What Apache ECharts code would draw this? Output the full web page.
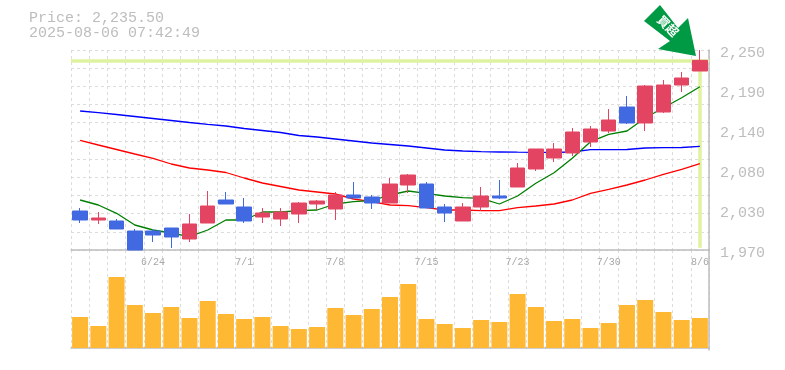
<!DOCTYPE html>
<html>
<head>
<meta charset="utf-8">
<title>Price chart</title>
<style>
	html, body { margin: 0; padding: 0; background: #fff; }
	#chart { width: 785px; height: 370px; }
</style>
<script src="https://cdn.jsdelivr.net/npm/echarts@6/dist/echarts.min.js"></script>
</head>
<body>
<div id="chart"></div>
<script>
	const dates = ['6/18', '6/19', '6/20', '6/23', '6/24', '6/25', '6/26', '6/27', '6/30', '7/1', '7/2', '7/3', '7/4', '7/7', '7/8', '7/9', '7/10', '7/11', '7/14', '7/15', '7/16', '7/17', '7/18', '7/22', '7/23', '7/24', '7/25', '7/28', '7/29', '7/30', '7/31', '8/1', '8/4', '8/5', '8/6']
	const opens = [2024.6, 2012, 2010.6, 1996.6, 1996.6, 2000.8, 1985.4, 2007.8, 2040, 2030.2, 2016.2, 2013.4, 2020.4, 2034.4, 2027.4, 2047, 2044.2, 2035.8, 2061, 2062.4, 2030.2, 2010.6, 2030.2, 2045.6, 2058.2, 2083.4, 2098.8, 2105.8, 2121.2, 2136.6, 2170.2, 2147.8, 2163.2, 2201, 2220.6]
	const closes = [2012, 2014.8, 1999.4, 1970, 1991, 1988.2, 2006.4, 2031.6, 2034.4, 2010.6, 2021.8, 2023.2, 2035.8, 2038.6, 2047, 2042.8, 2035.8, 2062.4, 2075, 2028.8, 2021.8, 2030.2, 2045.6, 2042.8, 2084.8, 2111.4, 2111.4, 2135.2, 2139.4, 2152, 2147.8, 2199.6, 2201, 2210.8, 2235.5]
	const lows = [2007.8, 2006.4, 1999.4, 1970, 1981.2, 1972.8, 1981.2, 2007.8, 2034.4, 2007.8, 2007.8, 2003.6, 2007.8, 2026, 2012, 2042.8, 2027.4, 2035.8, 2049.8, 2028.8, 2009.2, 2010.6, 2024.6, 2041.4, 2058.2, 2080.6, 2093.2, 2101.6, 2114.2, 2133.8, 2146.4, 2136.6, 2161.8, 2191.2, 2220.6]
	const highs = [2028.8, 2023.2, 2013.4, 1999.4, 1999.4, 2000.8, 2020.4, 2052.6, 2051.2, 2042.8, 2028.8, 2028.8, 2037.2, 2040, 2051.2, 2065.2, 2047, 2070.8, 2076.4, 2065.2, 2034.4, 2035.8, 2058.2, 2068, 2091.8, 2111.4, 2119.8, 2140.8, 2143.6, 2167.4, 2185.6, 2201, 2208, 2219.2, 2250]
	const maShort = [2040, 2033, 2021.4, 2005, 1998, 1993.8, 1988.6, 1998, 2012, 2012, 2023.2, 2023.2, 2025, 2026, 2034.4, 2037.6, 2039, 2047, 2052.6, 2049.4, 2045.6, 2043.2, 2042.4, 2034.4, 2045.6, 2063.4, 2078.2, 2098.4, 2121.6, 2132, 2136.6, 2154.8, 2169.2, 2183.2, 2198.6]
	const maMiddle = [2123.6, 2117, 2110.7, 2104.4, 2098.4, 2090.4, 2084.8, 2082, 2078.5, 2070.8, 2063.8, 2058.9, 2054, 2051.2, 2048.4, 2041.4, 2037.6, 2033, 2032, 2029.2, 2026, 2026, 2025, 2025, 2029.2, 2031.6, 2034.4, 2040, 2049.4, 2055, 2061, 2068, 2076, 2083, 2090.8]
	const maLong = [2164.6, 2162.2, 2159.7, 2156.9, 2154.1, 2151.3, 2148.5, 2146, 2143.6, 2140.1, 2137.3, 2134.5, 2130.3, 2128.2, 2125.4, 2122.6, 2119.8, 2117.7, 2115.6, 2112.8, 2110, 2108.6, 2107.6, 2107.2, 2106.9, 2106.8, 2106.8, 2107.2, 2110.4, 2110.6, 2110.7, 2112.8, 2113.2, 2113.5, 2115.2]
	const volumes = [31, 22, 71, 43, 35, 41, 30, 47, 34, 29, 31, 22, 19, 21, 40, 33, 39, 51, 64, 29, 24, 20, 28, 26, 54, 41, 27, 29, 20, 25, 43, 48, 36, 28, 30]
	const gridTicks = [1970, 1995.45, 2020.91, 2046.36, 2071.82, 2097.27, 2122.73, 2148.18, 2173.64, 2199.09, 2224.55, 2250]
	const priceTicks = [1970, 2026, 2082, 2138, 2194, 2250]
	const priceLabels = ['1,970', '2,030', '2,080', '2,140', '2,190', '2,250']
	const lastPrice = 2235.5
	const titleText = 'Price: 2,235.50\n2025-08-06 07:42:49'

	const mono = '"Liberation Mono", monospace'
	const gray = '#bdbdbd'
	const dashed = { show: true, lineStyle: { color: '#dcdcdc', width: 1, type: [3, 3] } }

	const chart = echarts.init(document.getElementById('chart'), null, { renderer: 'canvas' })
	chart.setOption({
		animation: false,
		title: {
			text: titleText,
			left: 29,
			top: 11,
			padding: 0,
			textStyle: { fontFamily: mono, fontSize: 15, fontWeight: 'normal', color: gray, lineHeight: 15 }
		},
		grid: [
			{ left: 71, right: 76, top: 50, height: 200 },
			{ left: 71, right: 76, top: 250, height: 100 }
		],
		xAxis: [
			{
				type: 'category',
				gridIndex: 0,
				data: dates,
				axisLine: { show: true, lineStyle: { color: gray, width: 1.5 } },
				axisTick: { show: false },
				axisLabel: {
					interval: (i) => (i + 1) % 5 === 0,
					margin: 7,
					fontFamily: mono,
					fontSize: 10,
					color: '#a8a8a8'
				},
				splitLine: { ...dashed, interval: 0 }
			},
			{
				type: 'category',
				gridIndex: 1,
				data: dates,
				axisLine: { show: true, lineStyle: { color: gray, width: 1.5 } },
				axisTick: { show: false },
				axisLabel: { show: false },
				splitLine: { ...dashed, interval: 0 }
			}
		],
		yAxis: [
			{
				// dashed grid only
				type: 'value',
				gridIndex: 0,
				min: 1970,
				max: 2250,
				position: 'right',
				axisLine: { show: true, lineStyle: { color: gray, width: 1.5 } },
				axisTick: { show: false, customValues: gridTicks },
				axisLabel: { show: false },
				splitLine: dashed
			},
			{
				// price labels, drawn a little below their tick like the original
				type: 'value',
				gridIndex: 0,
				min: 1970,
				max: 2250,
				position: 'right',
				axisLine: { show: false },
				axisTick: { show: false },
				splitLine: { show: false },
				axisLabel: {
					customValues: priceTicks,
					formatter: (v) => priceLabels[priceTicks.indexOf(v)],
					margin: 11,
					verticalAlign: 'top',
					lineHeight: 6,
					fontFamily: mono,
					fontSize: 15,
					color: gray
				}
			},
			{
				// bars sit 2 units above the axis line
				type: 'value',
				gridIndex: 1,
				min: -2,
				max: 98,
				position: 'right',
				axisLine: { show: true, lineStyle: { color: gray, width: 1.5 } },
				axisTick: { show: false },
				axisLabel: { show: false },
				splitLine: { show: false }
			}
		],
		series: [
			{
				type: 'line',
				data: [],
				xAxisIndex: 0,
				yAxisIndex: 0,
				z: 1,
				silent: true,
				markLine: {
					z: 1,
					silent: true,
					symbol: 'none',
					label: { show: false },
					lineStyle: { color: '#dff2a0', width: 3.5, type: 'solid' },
					data: [
						{ yAxis: lastPrice },
						[{ coord: [dates.length - 1, lastPrice] }, { coord: [dates.length - 1, 1973] }]
					]
				}
			},
			{ name: 'long', type: 'line', data: maLong, xAxisIndex: 0, yAxisIndex: 0, z: 2, showSymbol: false, lineStyle: { color: '#0000ff', width: 1.3 } },
			{ name: 'middle', type: 'line', data: maMiddle, xAxisIndex: 0, yAxisIndex: 0, z: 2, showSymbol: false, lineStyle: { color: '#ff0000', width: 1.3 } },
			{ name: 'short', type: 'line', data: maShort, xAxisIndex: 0, yAxisIndex: 0, z: 2, showSymbol: false, lineStyle: { color: '#008000', width: 1.3 } },
			{
				type: 'candlestick',
				xAxisIndex: 0,
				yAxisIndex: 0,
				z: 3,
				barWidth: 15,
				data: dates.map((d, i) => [opens[i], closes[i], lows[i], highs[i]]),
				itemStyle: { color: '#e24462', color0: '#4169e1', borderColor: '#e24462', borderColor0: '#4169e1', borderWidth: 1, borderJoin: 'miter' }
			},
			{
				type: 'bar',
				xAxisIndex: 1,
				yAxisIndex: 2,
				z: 3,
				barWidth: 16,
				data: volumes,
				itemStyle: { color: '#ffb833' }
			}
		],
		graphic: [
			{
				type: 'polygon',
				z: 10,
				shape: { points: [[660, 5], [644, 21], [670, 41], [658, 49], [696, 56], [688, 18], [678, 28]] },
				style: { fill: '#009944' }
			},
			{
				type: 'text',
				z: 11,
				x: 668,
				y: 26,
				rotation: -Math.PI / 4,
				style: {
					text: '買超',
					fill: '#fff',
					font: 'bold 12px "Noto Sans CJK JP"',
					align: 'center',
					verticalAlign: 'middle'
				}
			}
		]
	})
</script>
</body>
</html>
